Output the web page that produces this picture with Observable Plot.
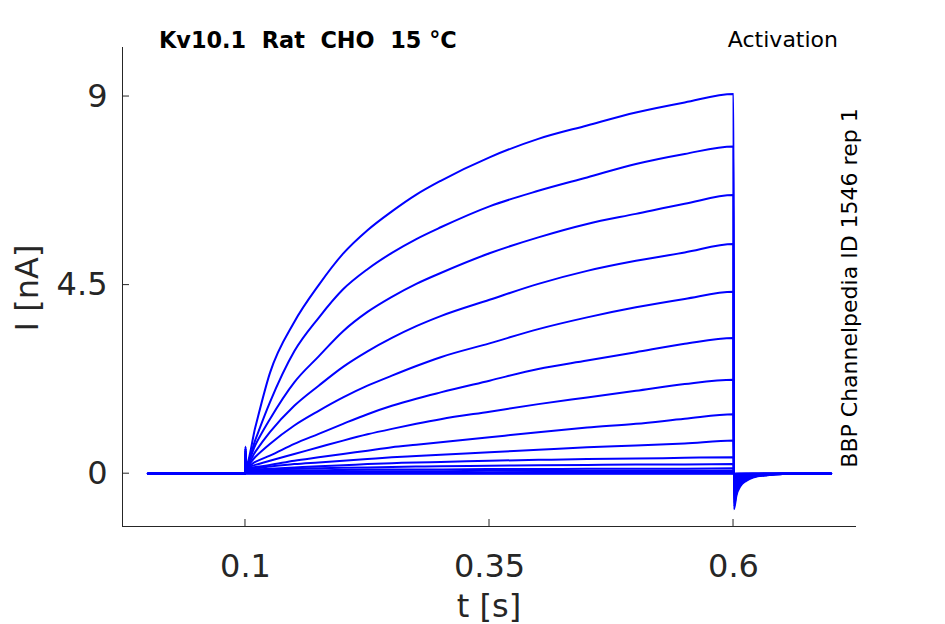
<!DOCTYPE html>
<html><head><meta charset="utf-8">
<script src="https://cdn.jsdelivr.net/npm/d3@7"></script>
<script src="https://cdn.jsdelivr.net/npm/@observablehq/plot@0.6"></script>
<style>body{margin:0;background:#fff}#chart{width:945px;height:624px}</style>
</head><body><div id="chart"></div>
<script>
// time samples (s)
const times = [0, 0.0999, 0.1, 0.1004, 0.11, 0.125, 0.15, 0.175, 0.2, 0.225, 0.25, 0.275, 0.3, 0.35, 0.4, 0.45, 0.5, 0.55, 0.6, 0.6004, 0.603, 0.607, 0.613, 0.62, 0.635, 0.65, 0.7];
// current per sweep (nA)
const sweep1  = [0,0,0.65,0.2,1.1,2.4,3.62,4.5,5.25,5.81,6.26,6.66,6.99,7.55,7.99,8.31,8.62,8.86,9.06,-0.85,-0.52,-0.3,-0.17,-0.09,-0.035,-0.01,0];
const sweep2  = [0,0,0.6,0.2,0.8,1.7,2.92,3.72,4.4,4.88,5.27,5.6,5.88,6.38,6.75,7.07,7.39,7.63,7.81,-0.78,-0.47,-0.27,-0.15,-0.08,-0.03,-0.01,0];
const sweep3  = [0,0,0.6,0.2,0.68,1.3,2.18,2.8,3.4,3.86,4.22,4.53,4.79,5.26,5.64,5.96,6.2,6.44,6.65,-0.7,-0.42,-0.24,-0.13,-0.07,-0.03,-0.01,0];
const sweep4  = [0,0,0.55,0.18,0.52,0.99,1.62,2.1,2.55,2.92,3.24,3.52,3.76,4.15,4.53,4.84,5.08,5.28,5.48,-0.6,-0.36,-0.2,-0.11,-0.06,-0.02,-0.01,0];
const sweep5  = [0,0,0.55,0.17,0.4,0.71,1.15,1.5,1.82,2.1,2.34,2.57,2.78,3.11,3.45,3.73,3.97,4.17,4.34,-0.5,-0.3,-0.17,-0.09,-0.05,-0.02,0,0];
const sweep6  = [0,0,0.5,0.16,0.28,0.43,0.71,0.95,1.19,1.42,1.62,1.79,1.94,2.22,2.5,2.7,2.9,3.1,3.24,-0.4,-0.24,-0.13,-0.07,-0.04,-0.015,0,0];
const sweep7  = [0,0,0.5,0.15,0.21,0.31,0.47,0.63,0.79,0.94,1.07,1.19,1.3,1.48,1.66,1.82,1.98,2.14,2.24,-0.3,-0.18,-0.1,-0.05,-0.03,-0.01,0,0];
const sweep8  = [0,0,0.45,0.13,0.16,0.21,0.31,0.39,0.47,0.55,0.63,0.69,0.75,0.87,0.99,1.1,1.19,1.31,1.42,-0.22,-0.13,-0.07,-0.04,-0.02,-0.01,0,0];
const sweep9  = [0,0,0.45,0.12,0.13,0.17,0.23,0.27,0.31,0.35,0.39,0.42,0.45,0.51,0.57,0.63,0.67,0.72,0.79,-0.15,-0.09,-0.05,-0.03,-0.015,0,0,0];
const sweep10 = [0,0,0.4,0.1,0.1,0.12,0.15,0.18,0.2,0.23,0.25,0.27,0.28,0.31,0.33,0.35,0.36,0.38,0.39,-0.1,-0.06,-0.03,-0.02,-0.01,0,0,0];
const sweep11 = [0,0,0.4,0.08,0.08,0.1,0.12,0.13,0.14,0.15,0.16,0.17,0.18,0.19,0.2,0.21,0.22,0.22,0.23,-0.06,-0.04,-0.02,-0.01,0,0,0,0];
const sweep12 = [0,0,0.35,0.06,0.06,0.07,0.08,0.08,0.09,0.1,0.1,0.1,0.1,0.11,0.11,0.12,0.12,0.12,0.13,-0.04,-0.02,-0.01,0,0,0,0,0];
const sweep13 = [0,0,0.35,0.05,0.05,0.05,0.05,0.06,0.06,0.06,0.06,0.06,0.06,0.07,0.07,0.07,0.07,0.07,0.07,-0.02,-0.01,0,0,0,0,0,0];
const sweep14 = [0,0,0.3,0.03,0.03,0.03,0.03,0.03,0.03,0.03,0.03,0.03,0.03,0.03,0.04,0.04,0.04,0.04,0.04,-0.01,0,0,0,0,0,0,0];
const sweep15 = [0,0,0.3,0.01,0.01,0.01,0.01,0.01,0.01,0.01,0.01,0.01,0.01,0.01,0.01,0.01,0.01,0.01,0.01,0,0,0,0,0,0,0,0];
const sweep16 = [0,0,0.3,0,0,0,0,0,0,0,0,0,0,0,0,0,0,0,0,0,0,0,0,0,0,0,0];

const xTicks = [0.1, 0.35, 0.6];
const xTickLabels = ["0.1", "0.35", "0.6"];
const yTicks = [0, 4.5, 9];
const yTickLabels = ["0", "4.5", "9"];
const xDomain = [-0.026, 0.726];
const yDomain = [-1.26, 10.17];
const title = "Kv10.1  Rat  CHO  15 °C";
const protocol = "Activation";
const source = "BBP Channelpedia ID 1546 rep 1";
const xLabel = "t [s]";
const yLabel = "I [nA]";

const sweeps = [sweep1,sweep2,sweep3,sweep4,sweep5,sweep6,sweep7,sweep8,sweep9,sweep10,sweep11,sweep12,sweep13,sweep14,sweep15,sweep16];
const rows = sweeps.flatMap((s, k) => times.map((t, i) => ({t, I: s[i], sweep: k})));

const axisColor = "#262626";
const plot = Plot.plot({
  width: 945, height: 624,
  marginLeft: 122, marginRight: 89, marginTop: 47, marginBottom: 98,
  style: {fontFamily: "DejaVu Sans", background: "white", overflow: "visible"},
  x: {domain: xDomain},
  y: {domain: yDomain},
  marks: [
    Plot.line(rows, {x: "t", y: "I", z: "sweep", stroke: "#0000ff", strokeWidth: 2, curve: "monotone-x"}),
    Plot.ruleX([xDomain[0]], {stroke: axisColor, strokeWidth: 1}),
    Plot.ruleY([yDomain[0]], {stroke: axisColor, strokeWidth: 1}),
    Plot.axisX(xTicks, {tickSize: 0, tickPadding: 28, fontSize: 32, fill: axisColor, tickFormat: (d, i) => xTickLabels[i], label: null}),
    Plot.axisY(yTicks, {tickSize: 0, tickPadding: 15, fontSize: 32, fill: axisColor, tickFormat: (d, i) => yTickLabels[i], label: null})
  ]
});
document.getElementById("chart").appendChild(plot);

const svg = d3.select(plot);
const sx = plot.scale("x"), sy = plot.scale("y");
const x0 = sx.apply(xDomain[0]), y0 = sy.apply(yDomain[0]);
const tickG = svg.append("g").attr("stroke", axisColor).attr("stroke-width", 1);
xTicks.forEach(v => { const px = sx.apply(v); tickG.append("line").attr("x1", px).attr("x2", px).attr("y1", y0).attr("y2", y0 - 7); });
yTicks.forEach(v => { const py = sy.apply(v); tickG.append("line").attr("x1", x0).attr("x2", x0 + 7).attr("y1", py).attr("y2", py); });

svg.append("text").attr("x", 159).attr("y", 48).attr("font-size", 22.4).attr("font-weight", "bold").attr("text-anchor", "start")
  .attr("fill", "#000").attr("font-family", "DejaVu Sans").style("white-space", "pre").text(title);
svg.append("text").attr("x", 838).attr("y", 47).attr("font-size", 22).attr("text-anchor", "end")
  .attr("fill", "#000").attr("font-family", "DejaVu Sans").text(protocol);
svg.append("text").attr("transform", "translate(857,288) rotate(-90)").attr("font-size", 22).attr("text-anchor", "middle")
  .attr("fill", "#000").attr("font-family", "DejaVu Sans").text(source);
svg.append("text").attr("x", 489).attr("y", 617).attr("font-size", 32).attr("text-anchor", "middle")
  .attr("fill", axisColor).attr("font-family", "DejaVu Sans").text(xLabel);
svg.append("text").attr("transform", "translate(38,288) rotate(-90)").attr("font-size", 32).attr("text-anchor", "middle")
  .attr("fill", axisColor).attr("font-family", "DejaVu Sans").text(yLabel);
</script>
</body></html>
